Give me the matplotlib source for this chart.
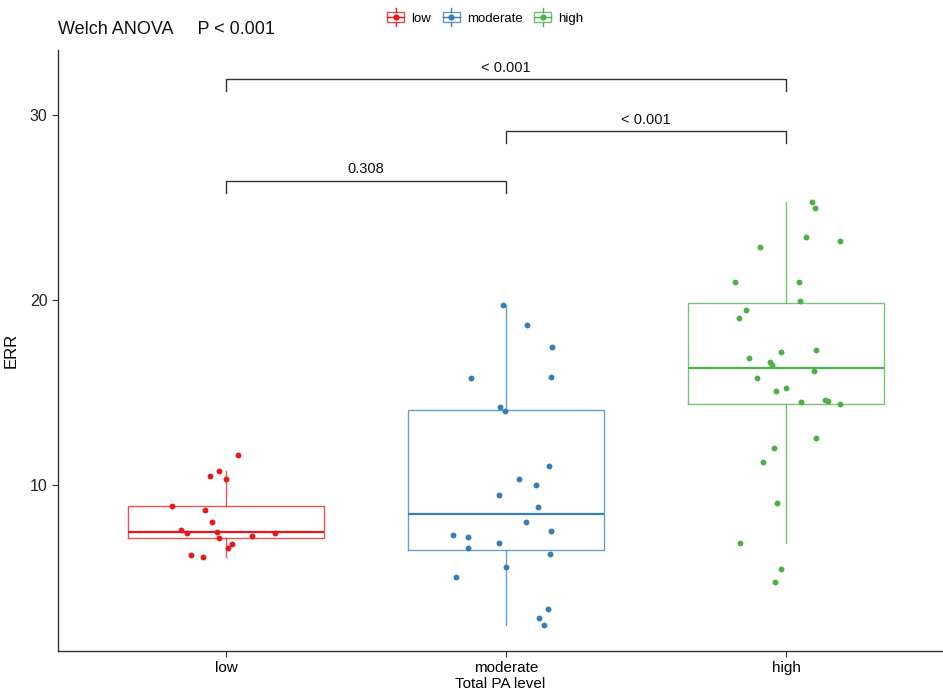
import matplotlib
matplotlib.use("Agg")
import matplotlib.pyplot as plt
from matplotlib.legend_handler import HandlerBase
from matplotlib.patches import Rectangle
from matplotlib.lines import Line2D
import numpy as np

categories = ["low", "moderate", "high"]
colors = ["#E41A1C", "#377EB8", "#4DAF4A"]

low_vals = [11.62, 10.49, 10.74, 10.32, 8.89, 8.67, 8.0, 7.55, 7.42, 7.46, 7.42, 7.26,
            7.14, 6.81, 6.59, 6.23, 6.09]
low_jit = [0.043, -0.056, -0.026, -0.001, -0.193, -0.074, -0.049, -0.160, -0.139, -0.031,
           0.176, 0.094, -0.026, 0.020, 0.007, -0.125, -0.083]

mod_vals = [19.75, 18.67, 17.48, 15.77, 15.86, 14.2, 14.0, 11.04, 10.32, 10.02, 9.44, 8.83,
            8.0, 7.53, 7.31, 7.17, 6.85, 6.59, 6.27, 5.57, 5.04, 3.28, 2.81, 2.45]
mod_jit = [-0.010, 0.076, 0.165, -0.125, 0.162, -0.023, -0.003, 0.153, 0.046, 0.108, -0.026,
           0.115, 0.070, 0.162, -0.190, -0.135, -0.026, -0.135, 0.158, 0.001, -0.180, 0.149,
           0.118, 0.135]

high_vals = [25.3, 24.99, 23.42, 23.17, 22.86, 20.95, 20.95, 19.96, 19.44, 19.03, 17.31, 17.21,
             16.85, 16.63, 16.5, 16.18, 15.77, 15.24, 15.1, 14.49, 14.58, 14.53, 14.36, 12.56,
             11.98, 11.26, 9.03, 6.85, 5.46, 4.74]
high_jit = [0.093, 0.103, 0.071, 0.192, -0.093, -0.181, 0.048, 0.051, -0.144, -0.168, 0.108,
            -0.018, -0.131, -0.058, -0.049, 0.099, -0.104, 0.0, -0.035, 0.055, 0.139, 0.150,
            0.192, 0.108, -0.042, -0.082, -0.031, -0.164, -0.018, -0.038]

# significance comparisons: (group a, group b, bracket height, label)
comparisons = [(1, 2, 26.43, "0.308"), (2, 3, 29.12, "< 0.001"), (1, 3, 31.93, "< 0.001")]
bracket_drop = 0.62

title_text = "Welch ANOVA     P < 0.001"

groups = [low_vals, mod_vals, high_vals]
jitters = [low_jit, mod_jit, high_jit]

fig = plt.figure(figsize=(9.43, 6.95), dpi=100)
ax = fig.add_axes([58 / 943, 1 - 651 / 695, 1 - 58 / 943, (651 - 50) / 695])

positions = [1, 2, 3]
for i, (vals, col) in enumerate(zip(groups, colors)):
    ax.boxplot([vals], positions=[positions[i]], widths=0.7, showfliers=False, whis=1.5,
               patch_artist=False,
               boxprops=dict(color=col, linewidth=1.0, alpha=0.75),
               whiskerprops=dict(color=col, linewidth=1.0, alpha=0.75),
               capprops=dict(linewidth=0),
               medianprops=dict(color=col, linewidth=1.6))
    xs = positions[i] + np.array(jitters[i])
    ax.scatter(xs, vals, s=18, color=col, zorder=3, linewidths=0)

for a, b, h, lab in comparisons:
    ax.plot([a, a, b, b], [h - bracket_drop, h, h, h - bracket_drop], color="#333333", lw=1.0)
    ax.text((a + b) / 2, h + 0.25, lab, ha="center", va="bottom", fontsize=10.5,
            family="Liberation Sans", color="#111111")

ax.set_xlim(0.4, 1 + (943 - 226) / 280)
ax.set_ylim(30 - (651 - 115) / 18.5, 30 + 65 / 18.5)
ax.set_xticks(positions)
ax.set_xticklabels(categories, fontsize=11, family="Liberation Sans")
ax.set_yticks([10, 20, 30])
ax.set_yticklabels(["10", "20", "30"], fontsize=11.5, family="Liberation Sans", color="#222222")
ax.tick_params(axis="both", length=4, width=0.8, color="#333333")
ax.set_xlabel("Total PA level", fontsize=11, family="Liberation Sans", labelpad=1)
ax.set_ylabel("ERR", fontsize=12, family="Liberation Sans", labelpad=8)
for s in ["top", "right"]:
    ax.spines[s].set_visible(False)
for s in ["left", "bottom"]:
    ax.spines[s].set_color("#333333")
    ax.spines[s].set_linewidth(1.0)

fig.text(58 / 943, 1 - 29 / 695, title_text, fontsize=13, va="center", ha="left",
         family="Liberation Sans", color="#111111")


class BoxHandler(HandlerBase):
    def create_artists(self, legend, orig_handle, xdescent, ydescent, width, height, fontsize, trans):
        col = orig_handle.get_color()
        cx = width / 2 - xdescent
        bw = width * 0.9
        bh = height * 0.9
        y0 = -ydescent + (height - bh) / 2
        rect = Rectangle((cx - bw / 2, y0), bw, bh, fill=False, edgecolor=col, lw=1.0,
                         alpha=0.8, transform=trans)
        mid = y0 + bh / 2
        l1 = Line2D([cx - bw / 2, cx + bw / 2], [mid, mid], color=col, lw=1.0, transform=trans)
        l2 = Line2D([cx, cx], [y0 + bh, y0 + bh + height * 0.35], color=col, lw=1.0, transform=trans)
        l3 = Line2D([cx, cx], [y0, y0 - height * 0.35], color=col, lw=1.0, transform=trans)
        dot = Line2D([cx], [mid], marker="o", markersize=3.5, color=col, lw=0, transform=trans)
        return [rect, l1, l2, l3, dot]


handles = [Line2D([], [], color=c) for c in colors]
leg = fig.legend(handles, categories, loc="center", bbox_to_anchor=(485 / 943, 1 - 18 / 695),
                 ncol=3, frameon=False, handler_map={Line2D: BoxHandler()},
                 handlelength=1.4, handleheight=0.9, handletextpad=0.5, columnspacing=0.8,
                 prop={"family": "Liberation Sans", "size": 9.5})

fig.savefig("out.png", dpi=100)
